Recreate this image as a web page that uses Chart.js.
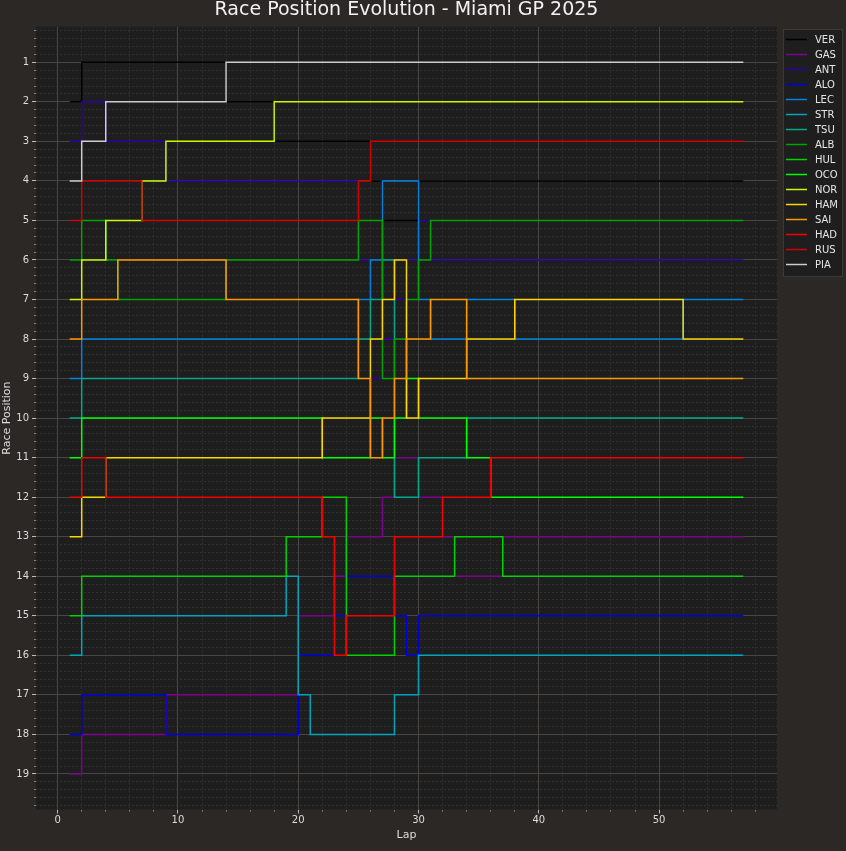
<!DOCTYPE html>
<html>
<head>
<meta charset="utf-8">
<title>Race Position Evolution - Miami GP 2025</title>
<script src="https://cdn.jsdelivr.net/npm/chart.js@4.4.1/dist/chart.umd.min.js"></script>
<style>
  html, body { margin: 0; padding: 0; background: #2b2826; }
  #wrap { position: relative; width: 846px; height: 851px; }
</style>
</head>
<body>
<div id="wrap"><canvas id="race-chart"></canvas></div>
<script>
// Voltas (eixo x)
const laps = [1,2,3,4,5,6,7,8,9,10,11,12,13,14,15,16,17,18,19,20,21,22,23,24,25,26,27,28,29,30,
  31,32,33,34,35,36,37,38,39,40,41,42,43,44,45,46,47,48,49,50,51,52,53,54,55,56,57];

// Posição por volta de cada piloto
const posVER = [2,1,1,1,1,1,1,1,1,1, 1,1,1,2,2,2,2,3,3,3, 3,3,3,3,3,4,5,5,5,4, 4,4,4,4,4,4,4,4,4,4, 4,4,4,4,4,4,4,4,4,4, 4,4,4,4,4,4,4];
const posGAS = [19,18,18,18,18,18,18,18,17,17, 17,17,17,17,17,17,17,17,17,15, 15,15,14,13,13,13,12,11,11,12, 12,13,14,14,14,14,13,13,13,13, 13,13,13,13,13,13,13,13,13,13, 13,13,13,13,13,13,13];
const posANT = [3,2,2,3,3,3,3,3,4,4, 4,4,4,4,4,4,4,4,4,4, 4,4,4,4,6,9,8,7,6,5, 6,6,6,6,6,6,6,6,6,6, 6,6,6,6,6,6,6,6,6,6, 6,6,6,6,6,6,6];
const posALO = [18,17,17,17,17,17,17,17,18,18, 18,18,18,18,18,18,18,18,18,16, 16,16,15,14,14,14,14,15,16,15, 15,15,15,15,15,15,15,15,15,15, 15,15,15,15,15,15,15,15,15,15, 15,15,15,15,15,15,15];
const posLEC = [9,8,8,8,8,8,8,8,8,8, 8,8,8,8,8,8,8,8,8,8, 8,8,8,8,7,6,4,4,4,7, 8,8,8,7,7,7,7,8,8,8, 8,8,8,8,8,8,8,8,8,8, 8,7,7,7,7,7,7];
const posSTR = [16,15,15,15,15,15,15,15,15,15, 15,15,15,15,15,15,15,15,14,17, 18,18,18,18,18,18,18,17,17,16, 16,16,16,16,16,16,16,16,16,16, 16,16,16,16,16,16,16,16,16,16, 16,16,16,16,16,16,16];
const posTSU = [10,9,9,9,9,9,9,9,9,9, 9,9,9,9,9,9,9,9,9,9, 9,9,9,9,8,7,6,12,12,11, 11,11,11,10,10,10,10,10,10,10, 10,10,10,10,10,10,10,10,10,10, 10,10,10,10,10,10,10];
const posALB = [6,5,5,6,7,7,7,7,7,7, 7,7,7,6,6,6,6,6,6,6, 6,6,6,6,5,5,9,8,7,6, 5,5,5,5,5,5,5,5,5,5, 5,5,5,5,5,5,5,5,5,5, 5,5,5,5,5,5,5];
const posHUL = [15,14,14,14,14,14,14,14,14,14, 14,14,14,14,14,14,14,14,13,13, 13,12,12,16,16,16,16,14,14,14, 14,14,13,13,13,13,14,14,14,14, 14,14,14,14,14,14,14,14,14,14, 14,14,14,14,14,14,14];
const posOCO = [11,10,10,10,10,10,10,10,10,10, 10,10,10,10,10,10,10,10,10,10, 10,11,11,11,11,10,11,10,9,10, 10,10,10,11,11,12,12,12,12,12, 12,12,12,12,12,12,12,12,12,12, 12,12,12,12,12,12,12];
const posNOR = [7,6,6,5,5,5,4,4,3,3, 3,3,3,3,3,3,3,2,2,2, 2,2,2,2,2,2,2,2,2,2, 2,2,2,2,2,2,2,2,2,2, 2,2,2,2,2,2,2,2,2,2, 2,2,2,2,2,2,2];
const posHAM = [13,12,12,11,11,11,11,11,11,11, 11,11,11,11,11,11,11,11,11,11, 11,10,10,10,10,8,7,6,10,9, 9,9,9,8,8,8,8,7,7,7, 7,7,7,7,7,7,7,7,7,7, 7,8,8,8,8,8,8];
const posSAI = [8,7,7,7,6,6,6,6,6,6, 6,6,6,7,7,7,7,7,7,7, 7,7,7,7,9,11,10,9,8,8, 7,7,7,9,9,9,9,9,9,9, 9,9,9,9,9,9,9,9,9,9, 9,9,9,9,9,9,9];
const posHAD = [12,11,11,12,12,12,12,12,12,12, 12,12,12,12,12,12,12,12,12,12, 12,13,16,15,15,15,15,13,13,13, 13,12,12,12,12,11,11,11,11,11, 11,11,11,11,11,11,11,11,11,11, 11,11,11,11,11,11,11];
const posRUS = [5,4,4,4,4,4,5,5,5,5, 5,5,5,5,5,5,5,5,5,5, 5,5,5,5,4,3,3,3,3,3, 3,3,3,3,3,3,3,3,3,3, 3,3,3,3,3,3,3,3,3,3, 3,3,3,3,3,3,3];
const posPIA = [4,3,3,2,2,2,2,2,2,2, 2,2,2,1,1,1,1,1,1,1, 1,1,1,1,1,1,1,1,1,1, 1,1,1,1,1,1,1,1,1,1, 1,1,1,1,1,1,1,1,1,1, 1,1,1,1,1,1,1];

const drivers = ['VER','GAS','ANT','ALO','LEC','STR','TSU','ALB','HUL','OCO','NOR','HAM','SAI','HAD','RUS','PIA'];
const positions = [posVER,posGAS,posANT,posALO,posLEC,posSTR,posTSU,posALB,posHUL,posOCO,posNOR,posHAM,posSAI,posHAD,posRUS,posPIA];

// cores (paleta espectral)
const driverColors = ['#000000','#7d008e','#2d00a4','#0000dd','#0082dd','#00a4bb','#00aa88','#00a400',
  '#00d200','#00ff00','#ccf900','#f9d700','#ff9900','#f40000','#d20000','#cccccc'];

const xTickValues = [0,10,20,30,40,50];
const yTickValues = [1,2,3,4,5,6,7,8,9,10,11,12,13,14,15,16,17,18,19];

const FONT = 'DejaVu Sans';

const datasets = drivers.map((code, i) => ({
    label: code,
    data: laps.map((lap, k) => ({ x: lap, y: positions[i][k] })),
    borderColor: driverColors[i],
    backgroundColor: driverColors[i],
    borderWidth: 1.5,
    pointRadius: 0,
    pointHoverRadius: 0,
    stepped: true,
    fill: false,
    order: drivers.length - i
}));

// fundo + título + legenda desenhados direto no canvas
const decorPlugin = {
    id: 'decor',
    beforeDraw(chart) {
        const { ctx, chartArea: a } = chart;
        ctx.save();
        ctx.fillStyle = '#2b2826';
        ctx.fillRect(0, 0, chart.width, chart.height);
        ctx.fillStyle = '#1f1e1e';
        ctx.fillRect(a.left, a.top, a.right - a.left, a.bottom - a.top);
        ctx.restore();
    },
    afterDraw(chart) {
        const { ctx, chartArea: a } = chart;
        ctx.save();
        // título
        ctx.fillStyle = '#f2f2f2';
        ctx.font = `19px "${FONT}"`;
        ctx.textAlign = 'center';
        ctx.textBaseline = 'alphabetic';
        ctx.fillText('Race Position Evolution - Miami GP 2025', (a.left + a.right) / 2, 15);

        // legenda
        ctx.fillStyle = '#1f1e1e';
        ctx.strokeStyle = '#3c3a39';
        ctx.lineWidth = 1;
        ctx.fillRect(783.5, 29.5, 59, 247);
        ctx.strokeRect(783.5, 29.5, 59, 247);
        ctx.font = `10px "${FONT}"`;
        ctx.textAlign = 'left';
        ctx.textBaseline = 'middle';
        drivers.forEach((code, i) => {
            const y = 39.5 + i * 15;
            ctx.strokeStyle = driverColors[i];
            ctx.lineWidth = 1.5;
            ctx.beginPath();
            ctx.moveTo(786, y);
            ctx.lineTo(807, y);
            ctx.stroke();
            ctx.fillStyle = '#e6e6e6';
            ctx.fillText(code, 815, y + 0.5);
        });
        ctx.restore();
    }
};

const tickFont = { family: FONT, size: 10 };
const labelFont = { family: FONT, size: 11 };

const ctx = document.getElementById('race-chart').getContext('2d');
const raceChart = new Chart(ctx, {
    type: 'line',
    data: { datasets },
    plugins: [decorPlugin],
    options: {
        responsive: true,
        maintainAspectRatio: false,
        devicePixelRatio: 1,
        animation: false,
        events: [],
        layout: { padding: { top: 26.7, right: 69, bottom: 0, left: 0 } },
        plugins: {
            legend: { display: false },
            title: { display: false },
            tooltip: { enabled: false }
        },
        scales: {
            x: {
                type: 'linear',
                position: 'bottom',
                min: -1.8,
                max: 59.8,
                afterBuildTicks: axis => { axis.ticks = xTickValues.map(v => ({ value: v })); },
                afterFit: axis => { axis.height = 41.5; },
                grid: { color: '#4a4644', lineWidth: 1, drawTicks: true, tickLength: 4, tickColor: '#bdbdbd', tickWidth: 1 },
                border: { display: false },
                ticks: { color: '#dcdcdc', font: tickFont, padding: 1, maxRotation: 0, autoSkip: false },
                title: { display: true, text: 'Lap', color: '#dcdcdc', font: labelFont, padding: { top: 0, bottom: 9 } }
            },
            xMinor: {
                type: 'linear',
                position: 'bottom',
                weight: -1,
                min: -1.8,
                max: 59.8,
                afterBuildTicks: axis => {
                    const t = [];
                    for (let v = 0; v <= 58; v += 2) if (v % 10) t.push({ value: v });
                    axis.ticks = t;
                },
                afterFit: axis => { axis.height = 0; },
                grid: { color: '#383635', lineWidth: 0.8, drawTicks: true, tickLength: 2, tickColor: '#9a9a9a' },
                border: { display: false, dash: [2, 2] },
                ticks: { display: false }
            },
            y: {
                type: 'linear',
                position: 'left',
                reverse: true,
                min: 0.1,
                max: 19.9,
                afterBuildTicks: axis => { axis.ticks = yTickValues.map(v => ({ value: v })); },
                afterFit: axis => { axis.width = 36; },
                grid: { color: '#4a4644', lineWidth: 1, drawTicks: true, tickLength: 4, tickColor: '#bdbdbd', tickWidth: 1 },
                border: { display: false },
                ticks: { color: '#dcdcdc', font: tickFont, padding: 3, autoSkip: false },
                title: { display: true, text: 'Race Position', color: '#dcdcdc', font: labelFont, padding: { top: 0.5, bottom: 0 } }
            },
            yMinor: {
                type: 'linear',
                position: 'left',
                weight: -1,
                reverse: true,
                min: 0.1,
                max: 19.9,
                afterBuildTicks: axis => {
                    const t = [];
                    for (let k = 1; k < 100; k++) if (k % 5) t.push({ value: k / 5 });
                    axis.ticks = t;
                },
                afterFit: axis => { axis.width = 0; },
                grid: { color: '#383635', lineWidth: 0.8, drawTicks: true, tickLength: 2, tickColor: '#9a9a9a' },
                border: { display: false, dash: [2, 2] },
                ticks: { display: false }
            }
        }
    }
});
</script>
</body>
</html>
